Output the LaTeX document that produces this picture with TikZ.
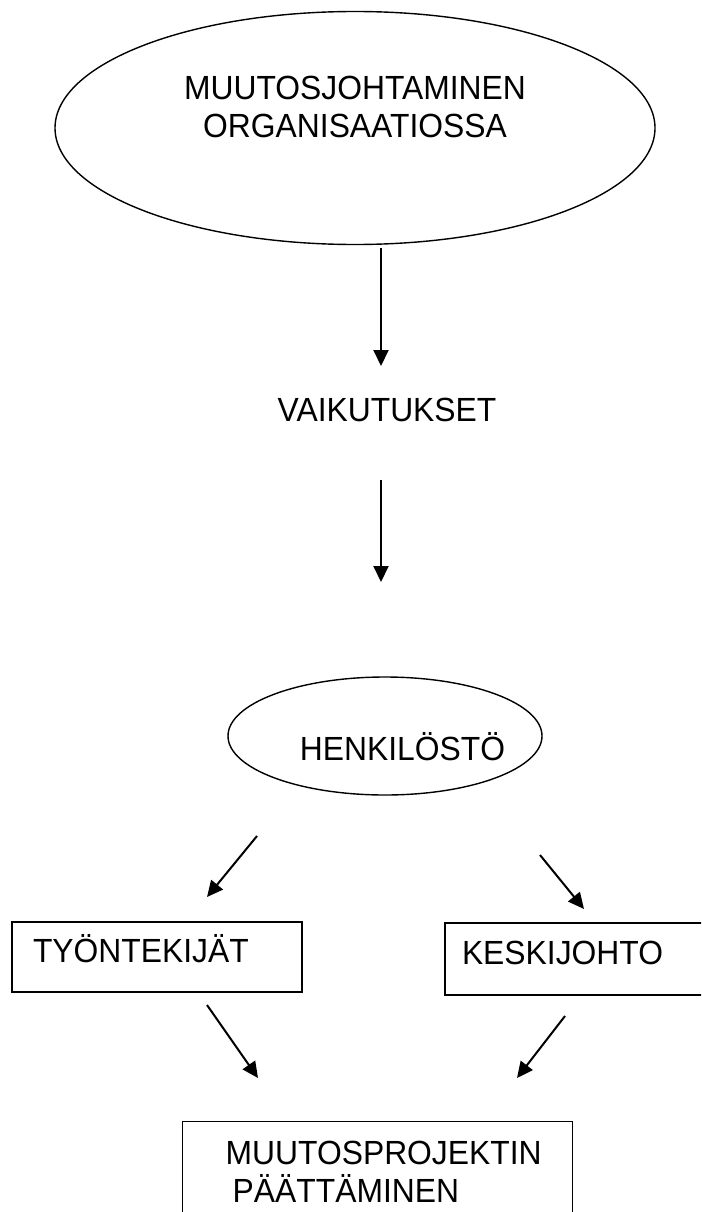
\documentclass[tikz,border=0pt]{standalone}
\usepackage{fontspec}
\setmainfont[FakeStretch=0.95]{Liberation Sans}
\usetikzlibrary{arrows.meta,shapes.geometric}
\tikzset{
  arr/.style={line width=2pt,-{Triangle[length=16pt,width=15pt]}},
  oval/.style={draw,ellipse,line width=1.4pt,inner sep=0pt},
  box/.style={draw,rectangle,line width=1.4pt,align=left,text height=24pt,text depth=13pt}
}
\begin{document}
\begin{tikzpicture}[x=1pt,y=-1pt,font=\fontsize{33.5}{38}\selectfont]
  \clip (0,0) rectangle (701,1212);
  \node[oval,minimum width=600pt,minimum height=233pt,
    label={[align=center,yshift=21pt]center:MUUTOSJOHTAMINEN\\ORGANISAATIOSSA}] (org) at (355,128) {};
  \node (vaik) at (387,410) {VAIKUTUKSET};
  \node[oval,minimum width=314pt,minimum height=118pt,
    label={[xshift=17.5pt,yshift=-11pt]center:HENKILÖSTÖ}] (henk) at (385,736) {};
  \node[box,minimum width=290pt,minimum height=70pt,inner xsep=21pt,text width=248pt] (tyon) at (157,957) {TYÖNTEKIJÄT};
  \node[box,minimum width=295pt,minimum height=72pt,inner xsep=17pt,text width=261pt] (keski) at (592.5,959) {KESKIJOHTO};
  \node[box,anchor=north west,text height=,text depth=,inner xsep=29pt,inner ysep=19pt,text width=332pt] (loppu) at (182,1121)
    {\hspace*{14pt}MUUTOSPROJEKTIN\\\hspace*{21pt}PÄÄTTÄMINEN};
  % nuolet
  \coordinate (a1) at (381,248);  \coordinate (b1) at (381,366);
  \coordinate (a2) at (381,480);  \coordinate (b2) at (381,582);
  \coordinate (a3) at (257,836);  \coordinate (b3) at (207,897);
  \coordinate (a4) at (540,855);  \coordinate (b4) at (584,909);
  \coordinate (a5) at (207,1005); \coordinate (b5) at (258,1078);
  \coordinate (a6) at (565,1016); \coordinate (b6) at (517,1078);
  \foreach \i in {1,...,6}
    \draw[arr] (a\i) -- (b\i);
\end{tikzpicture}
\end{document}
